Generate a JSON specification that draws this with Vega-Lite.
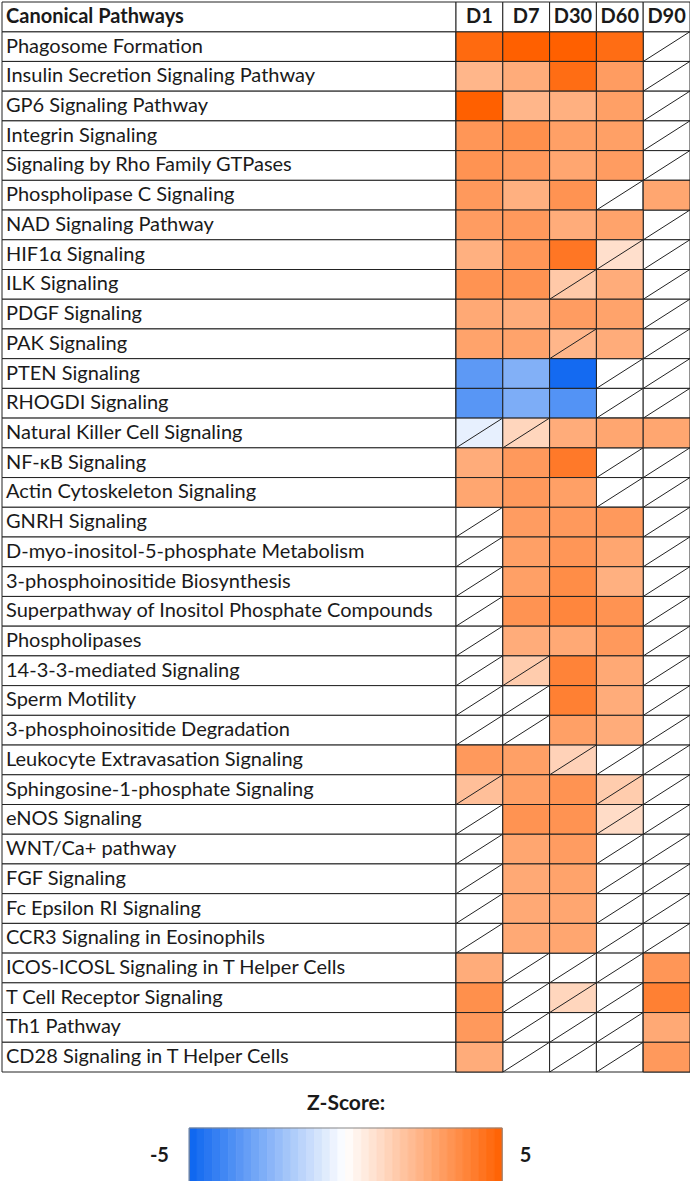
{
  "$schema": "https://vega.github.io/schema/vega-lite/v6.json",
  "padding": {"left": 1, "top": 1, "right": 0, "bottom": 0},
  "background": "white",
  "config": {"view": {"stroke": null}, "font": "Lato"},
  "datasets": {
    "cells": [
      {"pathway": "Phagosome Formation", "day": "D1", "z": 4.7},
      {"pathway": "Phagosome Formation", "day": "D7", "z": 5},
      {"pathway": "Phagosome Formation", "day": "D30", "z": 5},
      {"pathway": "Phagosome Formation", "day": "D60", "z": 4.6},
      {"pathway": "Phagosome Formation", "day": "D90", "z": null},
      {"pathway": "Insulin Secretion Signaling Pathway", "day": "D1", "z": 2.3},
      {"pathway": "Insulin Secretion Signaling Pathway", "day": "D7", "z": 2.6},
      {"pathway": "Insulin Secretion Signaling Pathway", "day": "D30", "z": 4.6},
      {"pathway": "Insulin Secretion Signaling Pathway", "day": "D60", "z": 3.1},
      {"pathway": "Insulin Secretion Signaling Pathway", "day": "D90", "z": null},
      {"pathway": "GP6 Signaling Pathway", "day": "D1", "z": 5},
      {"pathway": "GP6 Signaling Pathway", "day": "D7", "z": 2.3},
      {"pathway": "GP6 Signaling Pathway", "day": "D30", "z": 2.5},
      {"pathway": "GP6 Signaling Pathway", "day": "D60", "z": 3.0},
      {"pathway": "GP6 Signaling Pathway", "day": "D90", "z": null},
      {"pathway": "Integrin Signaling", "day": "D1", "z": 3.3},
      {"pathway": "Integrin Signaling", "day": "D7", "z": 3.5},
      {"pathway": "Integrin Signaling", "day": "D30", "z": 3.0},
      {"pathway": "Integrin Signaling", "day": "D60", "z": 3.0},
      {"pathway": "Integrin Signaling", "day": "D90", "z": null},
      {"pathway": "Signaling by Rho Family GTPases", "day": "D1", "z": 3.4},
      {"pathway": "Signaling by Rho Family GTPases", "day": "D7", "z": 3.2},
      {"pathway": "Signaling by Rho Family GTPases", "day": "D30", "z": 2.8},
      {"pathway": "Signaling by Rho Family GTPases", "day": "D60", "z": 3.1},
      {"pathway": "Signaling by Rho Family GTPases", "day": "D90", "z": null},
      {"pathway": "Phospholipase C Signaling", "day": "D1", "z": 3.2},
      {"pathway": "Phospholipase C Signaling", "day": "D7", "z": 2.5},
      {"pathway": "Phospholipase C Signaling", "day": "D30", "z": 3.4},
      {"pathway": "Phospholipase C Signaling", "day": "D60", "z": null},
      {"pathway": "Phospholipase C Signaling", "day": "D90", "z": 2.8},
      {"pathway": "NAD Signaling Pathway", "day": "D1", "z": 3.1},
      {"pathway": "NAD Signaling Pathway", "day": "D7", "z": 3.2},
      {"pathway": "NAD Signaling Pathway", "day": "D30", "z": 2.6},
      {"pathway": "NAD Signaling Pathway", "day": "D60", "z": 2.9},
      {"pathway": "NAD Signaling Pathway", "day": "D90", "z": null},
      {"pathway": "HIF1α Signaling", "day": "D1", "z": 2.5},
      {"pathway": "HIF1α Signaling", "day": "D7", "z": 3.3},
      {"pathway": "HIF1α Signaling", "day": "D30", "z": 4.3},
      {"pathway": "HIF1α Signaling", "day": "D60", "z": 1.0, "ns": true},
      {"pathway": "HIF1α Signaling", "day": "D90", "z": null},
      {"pathway": "ILK Signaling", "day": "D1", "z": 3.4},
      {"pathway": "ILK Signaling", "day": "D7", "z": 3.4},
      {"pathway": "ILK Signaling", "day": "D30", "z": 1.7, "ns": true},
      {"pathway": "ILK Signaling", "day": "D60", "z": 2.6},
      {"pathway": "ILK Signaling", "day": "D90", "z": null},
      {"pathway": "PDGF Signaling", "day": "D1", "z": 2.7},
      {"pathway": "PDGF Signaling", "day": "D7", "z": 2.6},
      {"pathway": "PDGF Signaling", "day": "D30", "z": 3.1},
      {"pathway": "PDGF Signaling", "day": "D60", "z": 2.9},
      {"pathway": "PDGF Signaling", "day": "D90", "z": null},
      {"pathway": "PAK Signaling", "day": "D1", "z": 2.9},
      {"pathway": "PAK Signaling", "day": "D7", "z": 2.9},
      {"pathway": "PAK Signaling", "day": "D30", "z": 2.3, "ns": true},
      {"pathway": "PAK Signaling", "day": "D60", "z": 2.6},
      {"pathway": "PAK Signaling", "day": "D90", "z": null},
      {"pathway": "PTEN Signaling", "day": "D1", "z": -3.3},
      {"pathway": "PTEN Signaling", "day": "D7", "z": -2.55},
      {"pathway": "PTEN Signaling", "day": "D30", "z": -4.8},
      {"pathway": "PTEN Signaling", "day": "D60", "z": null},
      {"pathway": "PTEN Signaling", "day": "D90", "z": null},
      {"pathway": "RHOGDI Signaling", "day": "D1", "z": -3.4},
      {"pathway": "RHOGDI Signaling", "day": "D7", "z": -2.65},
      {"pathway": "RHOGDI Signaling", "day": "D30", "z": -3.5},
      {"pathway": "RHOGDI Signaling", "day": "D60", "z": null},
      {"pathway": "RHOGDI Signaling", "day": "D90", "z": null},
      {"pathway": "Natural Killer Cell Signaling", "day": "D1", "z": -0.5, "ns": true},
      {"pathway": "Natural Killer Cell Signaling", "day": "D7", "z": 1.3, "ns": true},
      {"pathway": "Natural Killer Cell Signaling", "day": "D30", "z": 2.6},
      {"pathway": "Natural Killer Cell Signaling", "day": "D60", "z": 2.8},
      {"pathway": "Natural Killer Cell Signaling", "day": "D90", "z": 2.8},
      {"pathway": "NF-κB Signaling", "day": "D1", "z": 2.6},
      {"pathway": "NF-κB Signaling", "day": "D7", "z": 3.2},
      {"pathway": "NF-κB Signaling", "day": "D30", "z": 4.2},
      {"pathway": "NF-κB Signaling", "day": "D60", "z": null},
      {"pathway": "NF-κB Signaling", "day": "D90", "z": null},
      {"pathway": "Actin Cytoskeleton Signaling", "day": "D1", "z": 2.8},
      {"pathway": "Actin Cytoskeleton Signaling", "day": "D7", "z": 3.2},
      {"pathway": "Actin Cytoskeleton Signaling", "day": "D30", "z": 3.0},
      {"pathway": "Actin Cytoskeleton Signaling", "day": "D60", "z": null},
      {"pathway": "Actin Cytoskeleton Signaling", "day": "D90", "z": null},
      {"pathway": "GNRH Signaling", "day": "D1", "z": null},
      {"pathway": "GNRH Signaling", "day": "D7", "z": 3.1},
      {"pathway": "GNRH Signaling", "day": "D30", "z": 3.2},
      {"pathway": "GNRH Signaling", "day": "D60", "z": 3.2},
      {"pathway": "GNRH Signaling", "day": "D90", "z": null},
      {"pathway": "D-myo-inositol-5-phosphate Metabolism", "day": "D1", "z": null},
      {"pathway": "D-myo-inositol-5-phosphate Metabolism", "day": "D7", "z": 3.0},
      {"pathway": "D-myo-inositol-5-phosphate Metabolism", "day": "D30", "z": 3.3},
      {"pathway": "D-myo-inositol-5-phosphate Metabolism", "day": "D60", "z": 2.8},
      {"pathway": "D-myo-inositol-5-phosphate Metabolism", "day": "D90", "z": null},
      {"pathway": "3-phosphoinositide Biosynthesis", "day": "D1", "z": null},
      {"pathway": "3-phosphoinositide Biosynthesis", "day": "D7", "z": 3.0},
      {"pathway": "3-phosphoinositide Biosynthesis", "day": "D30", "z": 3.6},
      {"pathway": "3-phosphoinositide Biosynthesis", "day": "D60", "z": 2.5},
      {"pathway": "3-phosphoinositide Biosynthesis", "day": "D90", "z": null},
      {"pathway": "Superpathway of Inositol Phosphate Compounds", "day": "D1", "z": null},
      {"pathway": "Superpathway of Inositol Phosphate Compounds", "day": "D7", "z": 3.4},
      {"pathway": "Superpathway of Inositol Phosphate Compounds", "day": "D30", "z": 3.8},
      {"pathway": "Superpathway of Inositol Phosphate Compounds", "day": "D60", "z": 3.4},
      {"pathway": "Superpathway of Inositol Phosphate Compounds", "day": "D90", "z": null},
      {"pathway": "Phospholipases", "day": "D1", "z": null},
      {"pathway": "Phospholipases", "day": "D7", "z": 2.6},
      {"pathway": "Phospholipases", "day": "D30", "z": 2.7},
      {"pathway": "Phospholipases", "day": "D60", "z": 3.2},
      {"pathway": "Phospholipases", "day": "D90", "z": null},
      {"pathway": "14-3-3-mediated Signaling", "day": "D1", "z": null},
      {"pathway": "14-3-3-mediated Signaling", "day": "D7", "z": 1.6, "ns": true},
      {"pathway": "14-3-3-mediated Signaling", "day": "D30", "z": 3.9},
      {"pathway": "14-3-3-mediated Signaling", "day": "D60", "z": 2.7},
      {"pathway": "14-3-3-mediated Signaling", "day": "D90", "z": null},
      {"pathway": "Sperm Motility", "day": "D1", "z": null},
      {"pathway": "Sperm Motility", "day": "D7", "z": null},
      {"pathway": "Sperm Motility", "day": "D30", "z": 4.0},
      {"pathway": "Sperm Motility", "day": "D60", "z": 2.6},
      {"pathway": "Sperm Motility", "day": "D90", "z": null},
      {"pathway": "3-phosphoinositide Degradation", "day": "D1", "z": null},
      {"pathway": "3-phosphoinositide Degradation", "day": "D7", "z": null},
      {"pathway": "3-phosphoinositide Degradation", "day": "D30", "z": 3.0},
      {"pathway": "3-phosphoinositide Degradation", "day": "D60", "z": 2.6},
      {"pathway": "3-phosphoinositide Degradation", "day": "D90", "z": null},
      {"pathway": "Leukocyte Extravasation Signaling", "day": "D1", "z": 3.2},
      {"pathway": "Leukocyte Extravasation Signaling", "day": "D7", "z": 3.0},
      {"pathway": "Leukocyte Extravasation Signaling", "day": "D30", "z": 1.4, "ns": true},
      {"pathway": "Leukocyte Extravasation Signaling", "day": "D60", "z": null},
      {"pathway": "Leukocyte Extravasation Signaling", "day": "D90", "z": null},
      {"pathway": "Sphingosine-1-phosphate Signaling", "day": "D1", "z": 2.0, "ns": true},
      {"pathway": "Sphingosine-1-phosphate Signaling", "day": "D7", "z": 3.0},
      {"pathway": "Sphingosine-1-phosphate Signaling", "day": "D30", "z": 3.4},
      {"pathway": "Sphingosine-1-phosphate Signaling", "day": "D60", "z": 1.6, "ns": true},
      {"pathway": "Sphingosine-1-phosphate Signaling", "day": "D90", "z": null},
      {"pathway": "eNOS Signaling", "day": "D1", "z": null},
      {"pathway": "eNOS Signaling", "day": "D7", "z": 3.4},
      {"pathway": "eNOS Signaling", "day": "D30", "z": 3.4},
      {"pathway": "eNOS Signaling", "day": "D60", "z": 1.1, "ns": true},
      {"pathway": "eNOS Signaling", "day": "D90", "z": null},
      {"pathway": "WNT/Ca+ pathway", "day": "D1", "z": null},
      {"pathway": "WNT/Ca+ pathway", "day": "D7", "z": 2.8},
      {"pathway": "WNT/Ca+ pathway", "day": "D30", "z": 3.1},
      {"pathway": "WNT/Ca+ pathway", "day": "D60", "z": null},
      {"pathway": "WNT/Ca+ pathway", "day": "D90", "z": null},
      {"pathway": "FGF Signaling", "day": "D1", "z": null},
      {"pathway": "FGF Signaling", "day": "D7", "z": 2.7},
      {"pathway": "FGF Signaling", "day": "D30", "z": 2.9},
      {"pathway": "FGF Signaling", "day": "D60", "z": null},
      {"pathway": "FGF Signaling", "day": "D90", "z": null},
      {"pathway": "Fc Epsilon RI Signaling", "day": "D1", "z": null},
      {"pathway": "Fc Epsilon RI Signaling", "day": "D7", "z": 2.7},
      {"pathway": "Fc Epsilon RI Signaling", "day": "D30", "z": 2.8},
      {"pathway": "Fc Epsilon RI Signaling", "day": "D60", "z": null},
      {"pathway": "Fc Epsilon RI Signaling", "day": "D90", "z": null},
      {"pathway": "CCR3 Signaling in Eosinophils", "day": "D1", "z": null},
      {"pathway": "CCR3 Signaling in Eosinophils", "day": "D7", "z": 2.7},
      {"pathway": "CCR3 Signaling in Eosinophils", "day": "D30", "z": 2.8},
      {"pathway": "CCR3 Signaling in Eosinophils", "day": "D60", "z": null},
      {"pathway": "CCR3 Signaling in Eosinophils", "day": "D90", "z": null},
      {"pathway": "ICOS-ICOSL Signaling in T Helper Cells", "day": "D1", "z": 2.6},
      {"pathway": "ICOS-ICOSL Signaling in T Helper Cells", "day": "D7", "z": null},
      {"pathway": "ICOS-ICOSL Signaling in T Helper Cells", "day": "D30", "z": null},
      {"pathway": "ICOS-ICOSL Signaling in T Helper Cells", "day": "D60", "z": null},
      {"pathway": "ICOS-ICOSL Signaling in T Helper Cells", "day": "D90", "z": 3.3},
      {"pathway": "T Cell Receptor Signaling", "day": "D1", "z": 3.5},
      {"pathway": "T Cell Receptor Signaling", "day": "D7", "z": null},
      {"pathway": "T Cell Receptor Signaling", "day": "D30", "z": 1.3, "ns": true},
      {"pathway": "T Cell Receptor Signaling", "day": "D60", "z": null},
      {"pathway": "T Cell Receptor Signaling", "day": "D90", "z": 4.0},
      {"pathway": "Th1 Pathway", "day": "D1", "z": 3.2},
      {"pathway": "Th1 Pathway", "day": "D7", "z": null},
      {"pathway": "Th1 Pathway", "day": "D30", "z": null},
      {"pathway": "Th1 Pathway", "day": "D60", "z": null},
      {"pathway": "Th1 Pathway", "day": "D90", "z": 2.7},
      {"pathway": "CD28 Signaling in T Helper Cells", "day": "D1", "z": 2.6},
      {"pathway": "CD28 Signaling in T Helper Cells", "day": "D7", "z": null},
      {"pathway": "CD28 Signaling in T Helper Cells", "day": "D30", "z": null},
      {"pathway": "CD28 Signaling in T Helper Cells", "day": "D60", "z": null},
      {"pathway": "CD28 Signaling in T Helper Cells", "day": "D90", "z": 3.2}
    ],
    "bands": [
      {"from": -5, "to": -4.75, "z": -4.875}, {"from": -4.75, "to": -4.5, "z": -4.625},
      {"from": -4.5, "to": -4.25, "z": -4.375}, {"from": -4.25, "to": -4, "z": -4.125},
      {"from": -4, "to": -3.75, "z": -3.875}, {"from": -3.75, "to": -3.5, "z": -3.625},
      {"from": -3.5, "to": -3.25, "z": -3.375}, {"from": -3.25, "to": -3, "z": -3.125},
      {"from": -3, "to": -2.75, "z": -2.875}, {"from": -2.75, "to": -2.5, "z": -2.625},
      {"from": -2.5, "to": -2.25, "z": -2.375}, {"from": -2.25, "to": -2, "z": -2.125},
      {"from": -2, "to": -1.75, "z": -1.875}, {"from": -1.75, "to": -1.5, "z": -1.625},
      {"from": -1.5, "to": -1.25, "z": -1.375}, {"from": -1.25, "to": -1, "z": -1.125},
      {"from": -1, "to": -0.75, "z": -0.875}, {"from": -0.75, "to": -0.5, "z": -0.625},
      {"from": -0.5, "to": -0.25, "z": -0.375}, {"from": -0.25, "to": 0, "z": -0.125},
      {"from": 0, "to": 0.25, "z": 0.125}, {"from": 0.25, "to": 0.5, "z": 0.375},
      {"from": 0.5, "to": 0.75, "z": 0.625}, {"from": 0.75, "to": 1, "z": 0.875},
      {"from": 1, "to": 1.25, "z": 1.125}, {"from": 1.25, "to": 1.5, "z": 1.375},
      {"from": 1.5, "to": 1.75, "z": 1.625}, {"from": 1.75, "to": 2, "z": 1.875},
      {"from": 2, "to": 2.25, "z": 2.125}, {"from": 2.25, "to": 2.5, "z": 2.375},
      {"from": 2.5, "to": 2.75, "z": 2.625}, {"from": 2.75, "to": 3, "z": 2.875},
      {"from": 3, "to": 3.25, "z": 3.125}, {"from": 3.25, "to": 3.5, "z": 3.375},
      {"from": 3.5, "to": 3.75, "z": 3.625}, {"from": 3.75, "to": 4, "z": 3.875},
      {"from": 4, "to": 4.25, "z": 4.125}, {"from": 4.25, "to": 4.5, "z": 4.375},
      {"from": 4.5, "to": 4.75, "z": 4.625}, {"from": 4.75, "to": 5, "z": 4.875}
    ]
  },
  "vconcat": [
    {
      "hconcat": [
        {
          "width": 454,
          "height": 1070,
          "layer": [
            {
              "data": {"name": "cells"},
              "transform": [{"filter": "datum.day === 'D1'"}],
              "layer": [
                {
                  "mark": {"type": "rect", "fill": "white", "stroke": "#222", "strokeWidth": 1},
                  "encoding": {"y": {"field": "pathway", "type": "nominal", "axis": null}}
                },
                {
                  "mark": {"type": "text", "align": "left", "baseline": "middle", "dx": 4, "fontSize": 20, "font": "Lato", "color": "#1a1a1a"},
                  "encoding": {
                    "y": {"field": "pathway", "type": "nominal", "axis": null},
                    "x": {"value": 0},
                    "text": {"field": "pathway"}
                  }
                }
              ]
            },
            {
              "data": {"values": [{"pathway": "Canonical Pathways"}]},
              "layer": [
                {
                  "mark": {"type": "rect", "fill": "white", "stroke": "#222", "strokeWidth": 1},
                  "encoding": {"y": {"field": "pathway", "type": "nominal", "axis": null}}
                },
                {
                  "mark": {"type": "text", "align": "left", "baseline": "middle", "dx": 4, "fontSize": 20, "font": "Lato", "fontWeight": "bold", "color": "#1a1a1a"},
                  "encoding": {
                    "y": {"field": "pathway", "type": "nominal", "axis": null},
                    "x": {"value": 0},
                    "text": {"field": "pathway"}
                  }
                }
              ]
            }
          ],
          "resolve": {"scale": {"y": "shared"}},
          "encoding": {
            "y": {
              "field": "pathway",
              "type": "nominal",
              "axis": null,
              "scale": {
                "paddingInner": 0,
                "paddingOuter": 0,
                "domain": ["Canonical Pathways", "Phagosome Formation", "Insulin Secretion Signaling Pathway", "GP6 Signaling Pathway", "Integrin Signaling", "Signaling by Rho Family GTPases", "Phospholipase C Signaling", "NAD Signaling Pathway", "HIF1α Signaling", "ILK Signaling", "PDGF Signaling", "PAK Signaling", "PTEN Signaling", "RHOGDI Signaling", "Natural Killer Cell Signaling", "NF-κB Signaling", "Actin Cytoskeleton Signaling", "GNRH Signaling", "D-myo-inositol-5-phosphate Metabolism", "3-phosphoinositide Biosynthesis", "Superpathway of Inositol Phosphate Compounds", "Phospholipases", "14-3-3-mediated Signaling", "Sperm Motility", "3-phosphoinositide Degradation", "Leukocyte Extravasation Signaling", "Sphingosine-1-phosphate Signaling", "eNOS Signaling", "WNT/Ca+ pathway", "FGF Signaling", "Fc Epsilon RI Signaling", "CCR3 Signaling in Eosinophils", "ICOS-ICOSL Signaling in T Helper Cells", "T Cell Receptor Signaling", "Th1 Pathway", "CD28 Signaling in T Helper Cells"]
              }
            }
          }
        },
        {
          "width": 234,
          "height": 1070,
          "encoding": {
            "y": {
              "field": "pathway",
              "type": "nominal",
              "axis": null,
              "scale": {
                "paddingInner": 0,
                "paddingOuter": 0,
                "domain": ["Canonical Pathways", "Phagosome Formation", "Insulin Secretion Signaling Pathway", "GP6 Signaling Pathway", "Integrin Signaling", "Signaling by Rho Family GTPases", "Phospholipase C Signaling", "NAD Signaling Pathway", "HIF1α Signaling", "ILK Signaling", "PDGF Signaling", "PAK Signaling", "PTEN Signaling", "RHOGDI Signaling", "Natural Killer Cell Signaling", "NF-κB Signaling", "Actin Cytoskeleton Signaling", "GNRH Signaling", "D-myo-inositol-5-phosphate Metabolism", "3-phosphoinositide Biosynthesis", "Superpathway of Inositol Phosphate Compounds", "Phospholipases", "14-3-3-mediated Signaling", "Sperm Motility", "3-phosphoinositide Degradation", "Leukocyte Extravasation Signaling", "Sphingosine-1-phosphate Signaling", "eNOS Signaling", "WNT/Ca+ pathway", "FGF Signaling", "Fc Epsilon RI Signaling", "CCR3 Signaling in Eosinophils", "ICOS-ICOSL Signaling in T Helper Cells", "T Cell Receptor Signaling", "Th1 Pathway", "CD28 Signaling in T Helper Cells"]
              }
            },
            "x": {
              "field": "day",
              "type": "nominal",
              "axis": null,
              "scale": {"domain": ["D1", "D7", "D30", "D60", "D90"], "paddingInner": 0, "paddingOuter": 0}
            }
          },
          "layer": [
            {
              "data": {"name": "cells"},
              "mark": {"type": "rect", "fill": "white", "stroke": "#222", "strokeWidth": 1}
            },
            {
              "data": {"name": "cells"},
              "transform": [{"filter": "datum.z !== null"}],
              "mark": {"type": "rect", "stroke": "#222", "strokeWidth": 1},
              "encoding": {
                "color": {
                  "field": "z",
                  "type": "quantitative",
                  "legend": null,
                  "scale": {"domain": [-5, 0, 5], "range": ["#0a64f0", "#ffffff", "#ff6000"], "interpolate": "rgb"}
                }
              }
            },
            {
              "data": {"name": "cells"},
              "transform": [{"filter": "datum.z === null || datum.ns === true"}],
              "mark": {"type": "point", "shape": "M -1 0.638 L 1 -0.638", "size": 2190, "filled": false, "stroke": "#222", "strokeWidth": 1, "opacity": 1}
            },
            {
              "data": {"values": [{"day": "D1"}, {"day": "D7"}, {"day": "D30"}, {"day": "D60"}, {"day": "D90"}]},
              "layer": [
                {
                  "mark": {"type": "rect", "fill": "white", "stroke": "#222", "strokeWidth": 1},
                  "encoding": {"y": {"datum": "Canonical Pathways"}}
                },
                {
                  "mark": {"type": "text", "align": "center", "baseline": "middle", "fontSize": 20, "font": "Lato", "fontWeight": "bold", "color": "#1a1a1a"},
                  "encoding": {"y": {"datum": "Canonical Pathways"}, "text": {"field": "day"}}
                }
              ]
            }
          ]
        }
      ],
      "spacing": 0,
      "bounds": "flush"
    },
    {
      "width": 688,
      "height": 55,
      "title": {"text": "Z-Score:", "fontSize": 21, "fontWeight": "bold", "font": "Lato", "color": "#1a1a1a", "anchor": "middle", "offset": 14},
      "layer": [
        {
          "data": {"name": "bands"},
          "mark": {"type": "rect", "strokeWidth": 0.8},
          "encoding": {
            "x": {"field": "from", "type": "quantitative", "axis": null, "scale": {"domain": [-10.98, 11.0], "nice": false, "zero": false}},
            "x2": {"field": "to"},
            "color": {
              "field": "z",
              "type": "quantitative",
              "legend": null,
              "scale": {"domain": [-5, 0, 5], "range": ["#0a64f0", "#ffffff", "#ff6000"], "interpolate": "rgb"}
            },
            "stroke": {
              "field": "z",
              "type": "quantitative",
              "legend": null,
              "scale": {"domain": [-5, 0, 5], "range": ["#0a64f0", "#ffffff", "#ff6000"], "interpolate": "rgb"}
            }
          }
        },
        {
          "data": {"values": [{"from": -5, "to": 5}]},
          "mark": {"type": "rect", "fill": null, "stroke": "#888", "strokeWidth": 1},
          "encoding": {
            "x": {"field": "from", "type": "quantitative"},
            "x2": {"field": "to"}
          }
        },
        {
          "data": {"values": [{"label": "-5", "at": -5.95}, {"label": "5", "at": 5.75}]},
          "mark": {"type": "text", "align": "center", "baseline": "middle", "fontSize": 20, "font": "Lato", "fontWeight": "bold", "color": "#1a1a1a"},
          "encoding": {
            "x": {"field": "at", "type": "quantitative"},
            "text": {"field": "label"}
          }
        }
      ]
    }
  ],
  "spacing": 17
}
